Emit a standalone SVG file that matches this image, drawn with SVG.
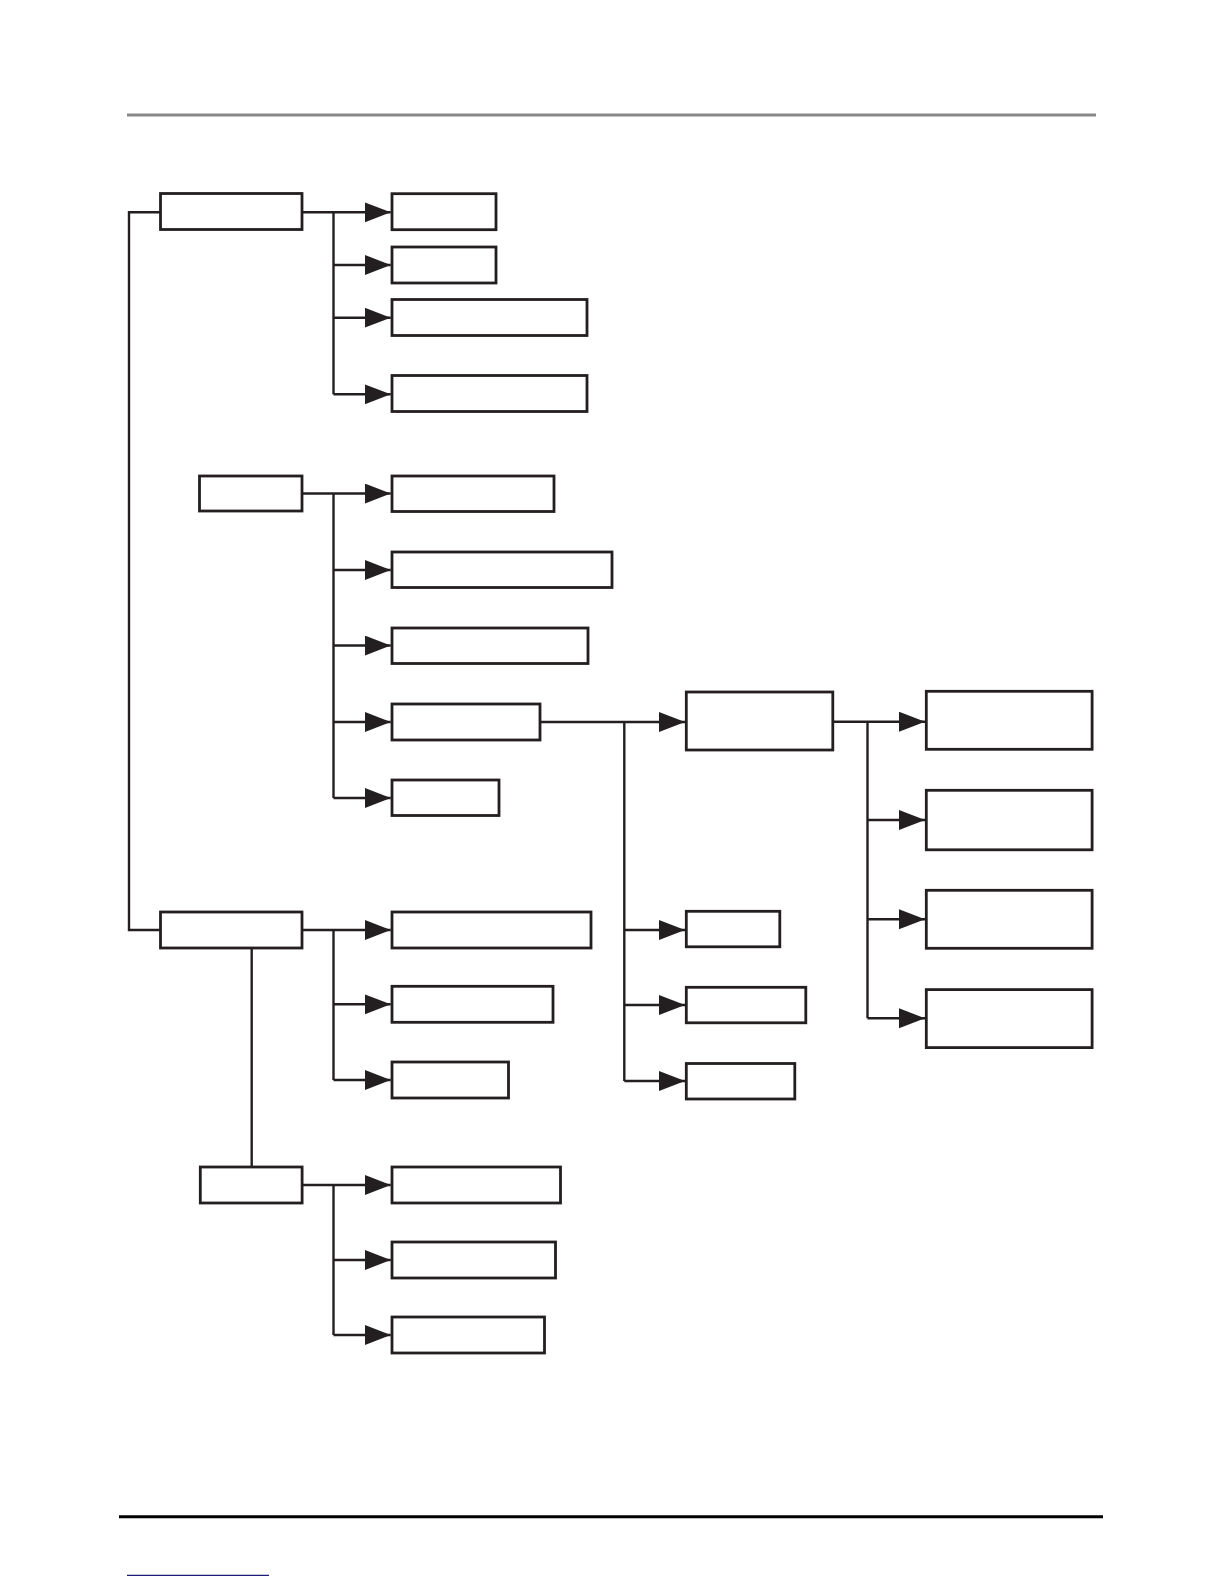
<svg xmlns="http://www.w3.org/2000/svg" width="1224" height="1584" viewBox="0 0 1224 1584">
<style>
.box{fill:#fff;stroke:#231f20;stroke-width:2.8}
.ln{fill:none;stroke:#231f20;stroke-width:2.4}
.ar{fill:none;stroke:#231f20;stroke-width:2.4;marker-end:url(#ah)}
</style>
<defs>
<marker id="ah" markerUnits="userSpaceOnUse" markerWidth="27" markerHeight="21" refX="26" refY="10" orient="auto">
<path d="M0,0 L26,10 L0,20 Z" fill="#231f20"/>
</marker>
</defs>
<rect width="1224" height="1584" fill="#fff"/>
<line x1="127" y1="115" x2="1096" y2="115" stroke="#888" stroke-width="3"/>
<line x1="119" y1="1516.7" x2="1103" y2="1516.7" stroke="#000" stroke-width="3"/>
<line x1="127" y1="1575.3" x2="269" y2="1575.3" stroke="#1c1c7a" stroke-width="1.3"/>
<g id="connectors">
<path class="ln" d="M160,212.3 H129 V930 H160"/>
<path class="ln" d="M251.7,949 V1166"/>
<path class="ln" d="M333.5,212.3 V394.3"/>
<path class="ar" d="M302,212.3 H390.7"/>
<path class="ar" d="M333.5,265 H390.7"/>
<path class="ar" d="M333.5,317.7 H390.7"/>
<path class="ar" d="M333.5,394.3 H390.7"/>
<path class="ln" d="M333.5,493.5 V798"/>
<path class="ar" d="M302,493.5 H390.7"/>
<path class="ar" d="M333.5,570 H390.7"/>
<path class="ar" d="M333.5,645.5 H390.7"/>
<path class="ar" d="M333.5,722 H390.7"/>
<path class="ar" d="M333.5,798 H390.7"/>
<path class="ln" d="M624.3,722 V1081"/>
<path class="ar" d="M540,722 H685"/>
<path class="ar" d="M624.3,930 H685"/>
<path class="ar" d="M624.3,1005 H685"/>
<path class="ar" d="M624.3,1081 H685"/>
<path class="ln" d="M867.5,721.7 V1018.3"/>
<path class="ar" d="M833,721.7 H925"/>
<path class="ar" d="M867.5,820 H925"/>
<path class="ar" d="M867.5,919.3 H925"/>
<path class="ar" d="M867.5,1018.3 H925"/>
<path class="ln" d="M333.5,930 V1080"/>
<path class="ar" d="M302,930 H390.7"/>
<path class="ar" d="M333.5,1004.3 H390.7"/>
<path class="ar" d="M333.5,1080 H390.7"/>
<path class="ln" d="M333.5,1185 V1335"/>
<path class="ar" d="M302,1185 H390.7"/>
<path class="ar" d="M333.5,1260 H390.7"/>
<path class="ar" d="M333.5,1335 H390.7"/>
</g>
<g id="root1"><rect class="box" x="160.5" y="193.5" width="141.5" height="36"/></g>
<g id="n1a"><rect class="box" x="392" y="193.7" width="104" height="36"/></g>
<g id="n1b"><rect class="box" x="392" y="247" width="104" height="36"/></g>
<g id="n1c"><rect class="box" x="392" y="299.5" width="195" height="36"/></g>
<g id="n1d"><rect class="box" x="392" y="375.5" width="195" height="36"/></g>
<g id="root2"><rect class="box" x="199.5" y="476" width="102.5" height="35"/></g>
<g id="n2a"><rect class="box" x="392" y="476" width="162" height="35.5"/></g>
<g id="n2b"><rect class="box" x="392" y="552" width="220" height="35.5"/></g>
<g id="n2c"><rect class="box" x="392" y="628" width="196" height="35.5"/></g>
<g id="n2d"><rect class="box" x="392" y="704" width="148" height="36"/></g>
<g id="n2e"><rect class="box" x="392" y="780" width="107" height="35.5"/></g>
<g id="mid"><rect class="box" x="686.3" y="692" width="146.5" height="58"/></g>
<g id="r1"><rect class="box" x="926.3" y="691.3" width="165.8" height="58"/></g>
<g id="r2"><rect class="box" x="926.3" y="790.3" width="165.8" height="59.5"/></g>
<g id="r3"><rect class="box" x="926.3" y="890.3" width="165.8" height="58"/></g>
<g id="r4"><rect class="box" x="926.3" y="989.6" width="165.8" height="58"/></g>
<g id="root3"><rect class="box" x="160.5" y="912" width="141.5" height="36"/></g>
<g id="n3a"><rect class="box" x="392" y="912" width="199" height="36"/></g>
<g id="n3b"><rect class="box" x="392" y="986.3" width="161" height="36"/></g>
<g id="n3c"><rect class="box" x="392" y="1062" width="116.5" height="36"/></g>
<g id="m1"><rect class="box" x="686.3" y="911.3" width="93.5" height="35.5"/></g>
<g id="m2"><rect class="box" x="686.3" y="987.3" width="119.5" height="35.5"/></g>
<g id="m3"><rect class="box" x="686.3" y="1063.5" width="108.5" height="35.5"/></g>
<g id="root4"><rect class="box" x="200.3" y="1167" width="101.8" height="36"/></g>
<g id="n4a"><rect class="box" x="392" y="1167" width="168.5" height="36"/></g>
<g id="n4b"><rect class="box" x="392" y="1242" width="163.5" height="36"/></g>
<g id="n4c"><rect class="box" x="392" y="1317" width="152.5" height="36"/></g>
</svg>
